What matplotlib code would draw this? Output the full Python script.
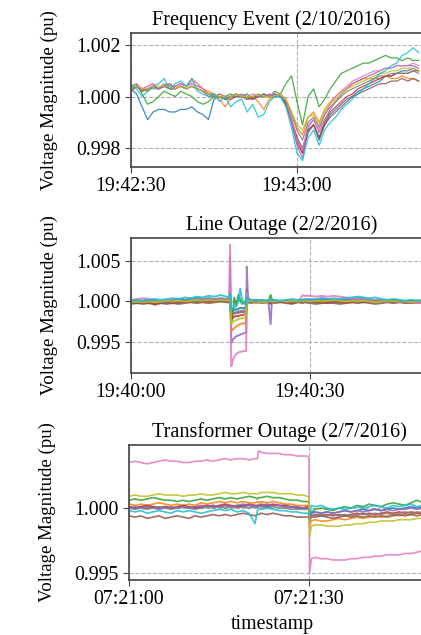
import matplotlib
matplotlib.use('Agg')
import matplotlib.pyplot as plt
import numpy as np

plt.rcParams['font.family'] = ['Liberation Serif', 'DejaVu Serif']
plt.rcParams['font.size'] = 14.3

# deviations from 1.0 pu, in units of 1e-4 pu, one list per measurement unit
# ---- Frequency event (2/10/2016), start 19:42:30, one sample per second
t_freq = np.arange(0, 53)
freq_blue = [3, 1, -4, -9, -6, -5, -5, -6, -6, -5, -5, -4, -6, -7, -9, -1, 0, -1, 0, 1, 0, -1, 0, 0, 1, 0,
             1, 0, -3, -9, -16, -22, -14, -11, -17, -11, -7, -5, -3, -1, 0, 2, 3, 4, 5, 6, 8, 8, 9, 10, 10, 11, 10]
freq_orange = [2, 4, 3, 4, 5, 3, 4, 3, 4, 5, 4, 7, 5, 3, 2, 1, -1, -4, -1, 0, 0, -1, 0, -2, -5, -1,
               0, 1, -1, -6, -12, -15, -8, -6, -10, -5, -2, 0, 2, 3, 5, 6, 7, 7, 7, 7, 8, 7, 7, 8, 7, 7, 6]
freq_green = [4, 5, 1, -3, -2, 0, 2, 1, 0, 2, 1, 0, -2, -3, -2, 0, 1, 0, 1, 0, 0, 1, -1, 0, 1, 0,
              2, 1, 5, 8, -2, -11, 0, 3, -4, -1, 3, 6, 9, 10, 11, 12, 13, 13, 14, 15, 16, 15, 15, 14, 15, 14, 14]
freq_red = [3, 4, 3, 2, 4, 3, 4, 5, 3, 4, 3, 4, 3, 2, 1, 0, 0, -1, 0, 1, 0, 0, -1, 0, 0, 1,
            0, 0, -3, -10, -18, -22, -13, -11, -16, -10, -6, -4, -2, 0, 1, 3, 4, 5, 6, 7, 8, 8, 9, 9, 9, 10, 10]
freq_purple = [2, 4, 2, 3, 4, 3, 5, 4, 4, 5, 4, 5, 4, 3, 1, 1, 0, 0, 0, 0, 1, 0, 0, 1, 0, 0,
               1, 0, -2, -10, -19, -24, -12, -9, -14, -9, -5, -2, 1, 3, 5, 6, 7, 8, 9, 10, 11, 11, 12, 12, 12, 12, 11]
freq_brown = [3, 4, 2, 3, 4, 3, 4, 3, 3, 4, 3, 4, 3, 2, 1, 0, 0, -1, -1, 0, 0, -1, -1, 0, 0, 0,
              0, 0, -3, -9, -16, -20, -13, -11, -16, -11, -8, -6, -4, -2, 0, 1, 2, 3, 4, 5, 5, 6, 6, 7, 6, 7, 6]
freq_pink = [3, 5, 3, 4, 5, 3, 4, 4, 4, 5, 4, 6, 5, 3, 1, 0, 1, 0, 0, 1, 0, 0, 1, 0, 0, 1,
             0, 1, -2, -9, -17, -21, -11, -9, -13, -7, -3, 0, 2, 4, 6, 7, 8, 9, 10, 10, 11, 11, 12, 12, 12, 13, 12]
freq_gray = [2, 4, 2, 3, 3, 3, 4, 3, 3, 4, 3, 4, 3, 2, 0, 0, 0, -1, 0, 0, 0, -1, 0, 0, 0, 0,
             0, 0, -2, -7, -13, -17, -10, -8, -12, -7, -4, -2, 0, 2, 3, 4, 5, 6, 7, 8, 8, 9, 9, 9, 9, 10, 9]
freq_olive = [3, 4, 3, 3, 4, 4, 4, 4, 3, 4, 3, 4, 3, 2, 1, 1, 0, 0, 0, 1, 0, 0, 0, 1, 0, 0,
              0, 1, -1, -6, -11, -13, -8, -7, -11, -6, -3, -1, 1, 3, 4, 5, 6, 7, 8, 9, 9, 10, 10, 11, 11, 11, 10]
freq_cyan = [4, 3, 0, 2, 4, 5, 7, 3, 5, 6, 4, 7, 2, 1, 0, 1, -2, 0, -4, -2, -1, -6, -3, -8, -7, -2,
             0, 0, -4, -12, -22, -25, -16, -13, -19, -13, -10, -8, -5, -3, -1, 1, 3, 5, 7, 9, 10, 12, 13, 16, 17, 19, 17]

# ---- Line outage (2/2/2016), start 19:40:00
t_line = np.concatenate([np.arange(0, 17),
                         [16.5, 16.6, 16.8, 17.0, 17.3, 17.6, 18.0, 18.3, 18.6, 19.0, 19.3, 19.4, 19.6, 20],
                         [21, 22, 23, 23.4, 23.6, 24, 25, 26, 27, 28, 28.8],
                         np.arange(29, 51)])
line_blue = [1, 0, 1, 2, 1, 0, 1, 2, 3, 2, 3, 4, 3, 4, 3, 4, 3,
             3, 8, -14, -12, -10, -10, -9, -8, -8, -8, -7, 6, 2, 1,
             2, 1, 1, 0, 1, 1, 0, 1, 0, 1, 2,
             2, 1, 2, 1, 3, 2, 1, 2, 3, 4, 3, 2, 1, 0, 1, 2, 1, 0, 1, 0, 0, 1]
line_orange = [-1, -2, -1, -2, -1, -2, -1, 0, -1, 0, 1, 0, 1, 0, 1, 0, 1,
               0, -5, -36, -35, -33, -31, -29, -28, -27, -27, -26, 2, 0, 1,
               0, 1, 0, -1, 0, -1, 0, -1, 0, 1, 0,
               1, 0, -1, -2, -1, 0, -1, -2, -1, 0, 1, 0, 1, 0, 1, 2, 1, 0, -1, 0, 1, 0]
line_green = [-1, -2, -1, 0, -1, -2, -1, 0, -1, 0, 1, 2, 1, 2, 1, 2, 3,
              3, 20, -25, -20, 5, -5, 8, 2, -3, 0, -2, 15, 3, 0,
              -1, 0, 0, 8, 3, 1, 0, 0, -1, 0, 1,
              0, 1, 0, -1, 0, 1, 0, 1, 0, -1, 0, 1, 0, 1, 0, 1, 0, -1, 0, 1, 0, 0]
line_red = [-2, -1, -2, -1, -3, -2, -1, -2, -1, -1, 0, 1, 0, 1, 0, 1, 0,
            0, 5, -22, -20, -19, -18, -18, -17, -17, -16, -16, 4, 0, 0,
            -1, 0, -1, -2, 0, -1, 0, -1, -2, 0, -1,
            0, -1, 0, -1, -2, -1, 0, -1, 0, -1, 0, -1, 0, 1, 0, -1, 0, -1, -2, -1, 0, -1]
line_purple = [0, 1, 0, -1, 1, 0, -1, 1, 0, 1, 2, 1, 2, 3, 2, 3, 2,
               2, 56, -51, -48, -45, -43, -42, -41, -40, -39, -39, 43, 5, 2,
               1, 0, 1, -28, 0, 1, 0, 0, 1, 0, 1,
               2, 3, 2, 4, 3, 2, 3, 2, 1, 2, 1, 0, 1, 2, 1, 0, 1, 0, -1, 0, 0, -1]
line_brown = [-3, -2, -3, -2, -4, -2, -3, -2, -3, -2, -1, -2, -1, -2, -1, 0, -1,
              -1, 3, -18, -16, -15, -14, -14, -13, -13, -13, -12, 3, -1, -2,
              -1, -2, -1, -3, -1, -2, -1, -2, -3, -1, -2,
              -1, -2, -3, -2, -1, -2, -3, -2, -1, -2, -1, -2, -3, -2, -1, -2, -1, -2, -1, -2, -1, -2]
line_pink = [2, 3, 4, 3, 2, 1, 1, 2, 1, 0, 1, 2, 3, 2, 3, 2, 3,
             2, 70, -80, -74, -68, -65, -63, -62, -62, -61, -61, 10, 2, 1,
             1, 0, 1, 0, 1, 0, 1, 0, 1, 0, 8,
             7, 7, 6, 7, 6, 7, 6, 5, 4, 3, 2, 1, 2, 1, 0, 1, -1, 0, -1, -2, -1, -1]
line_gray = [0, -1, 0, 1, 0, -1, 0, 1, 0, 1, 0, 1, 2, 1, 2, 1, 2,
             1, 4, -17, -15, -14, -13, -12, -12, -11, -11, -11, 3, 1, 0,
             0, 1, 0, 0, 0, 1, 0, 1, 0, 0, 1,
             1, 0, 1, 2, 1, 0, 1, 0, 1, 0, 1, 0, 1, 0, 0, 1, 0, -1, 0, 1, 0, 0]
line_olive = [-1, 0, -1, 0, -1, 0, 1, 0, 1, 0, 1, 2, 1, 2, 1, 2, 1,
              1, 6, -28, -26, -24, -23, -22, -21, -21, -20, -20, 4, 1, 0,
              0, -1, 0, 1, 0, 0, 1, 0, 0, 1, 0,
              1, 0, 1, 0, 1, 2, 1, 0, 1, 0, 1, 0, -1, 0, 1, 0, 1, 0, -1, 0, 1, 0]
line_cyan = [1, 2, 1, 2, 3, 2, 3, 4, 3, 5, 4, 6, 5, 7, 6, 8, 6,
             5, 10, -10, -9, -8, -6, 0, 16, 2, -3, -4, 7, 3, 2,
             1, 2, 1, 2, 1, 2, 1, 2, 3, 2, 2,
             3, 2, 3, 4, 3, 4, 3, 4, 5, 6, 5, 4, 5, 3, 2, 3, 2, 1, 2, 1, 2, 1]

# ---- Transformer outage (2/7/2016), start 07:21:00
t_xfmr = np.concatenate([np.arange(0, 22), [21.4, 21.6], np.arange(22, 30),
                         [29.7, 30.0, 30.1, 30.4], np.arange(31, 51)])
xfmr_blue = [1, 0, 1, 0, 1, 0, 1, 0, 0, 1, 0, 1, 0, 1, 2, 1, 2, 1, 2, 1, 2, 1,
             1, 2, 2, 1, 2, 2, 1, 1, 0, 0, 0, -1, -8, -4,
             -3, -4, -3, -4, -3, -2, -3, -2, -1, -2, -1, -2, -1, 0, -1, 0, 1, 0, 1, 0]
xfmr_orange = [3, 2, 3, 2, 3, 4, 3, 2, 3, 2, 3, 2, 4, 3, 4, 5, 4, 5, 4, 5, 4, 4,
               5, 4, 5, 4, 5, 4, 3, 3, 2, 2, 2, 1, -14, -10,
               -9, -10, -10, -9, -8, -9, -8, -7, -8, -7, -6, -7, -6, -5, -6, -5, -5, -4, -5, -4]
xfmr_green = [6, 7, 6, 7, 8, 7, 6, 6, 5, 6, 5, 6, 7, 6, 7, 8, 7, 8, 7, 8, 9, 8,
              7, 8, 8, 9, 8, 8, 7, 6, 6, 5, 5, 4, -10, -3,
              -1, 0, -1, -2, 0, 1, 0, 2, 1, 3, 2, 1, 3, 4, 3, 2, 4, 6, 4, 5]
xfmr_red = [1, 0, 1, 2, 1, 0, 1, 0, 1, 2, 1, 0, 1, 2, 1, 2, 3, 2, 1, 2, 3, 2,
            2, 2, 3, 2, 3, 2, 2, 1, 1, 0, 1, 0, -9, -6,
            -5, -6, -5, -6, -5, -6, -5, -4, -5, -4, -5, -4, -3, -4, -3, -4, -3, -4, -3, -3]
xfmr_purple = [0, 1, 0, 1, 0, -1, 0, 1, 0, 1, 0, 1, 2, 1, 2, 1, 2, 1, 2, 3, 2, 2,
               2, 2, 2, 3, 2, 2, 1, 1, 1, 0, 0, 0, -7, -4,
               -3, -4, -3, -4, -3, -2, -3, -2, -3, -2, -1, -2, -1, -2, -1, -1, 0, -1, 0, -1]
xfmr_brown = [-6, -7, -6, -8, -7, -6, -8, -7, -6, -7, -8, -6, -7, -6, -5, -6, -5, -6, -5, -4, -5, -6,
              -5, -5, -4, -5, -4, -5, -6, -6, -7, -7, -7, -7, -9, -7,
              -7, -6, -7, -8, -7, -6, -7, -6, -7, -6, -7, -6, -7, -6, -5, -6, -5, -6, -5, -6]
xfmr_pink = [35, 36, 35, 34, 35, 36, 37, 36, 36, 35, 35, 36, 36, 37, 36, 37, 38, 37, 38, 38, 37, 38,
             38, 44, 43, 42, 42, 42, 41, 41, 40, 40, 40, 38, -50, -39,
             -38, -39, -39, -40, -40, -40, -39, -39, -38, -38, -37, -37, -36, -36, -36, -35, -35, -34, -33, -34]
xfmr_gray = [0, -1, 0, -1, 0, 1, 0, -1, 0, 1, 0, -1, 0, 1, 0, 1, 0, 1, 0, 1, 0, 1,
             0, 1, 1, 0, 1, 0, 0, -1, -1, -1, -1, -1, -8, -6,
             -6, -5, -6, -5, -6, -5, -6, -5, -4, -5, -4, -5, -4, -5, -4, -3, -4, -3, -4, -3]
xfmr_olive = [9, 10, 9, 9, 10, 11, 10, 10, 10, 9, 10, 10, 11, 10, 10, 11, 12, 11, 11, 12, 11, 11,
              11, 11, 12, 12, 12, 11, 11, 11, 10, 10, 9, 8, -22, -14,
              -13, -13, -14, -14, -14, -13, -13, -12, -12, -11, -11, -10, -10, -10, -9, -9, -9, -8, -8, -8]
xfmr_cyan = [-2, -3, -2, -4, -3, -2, -3, -4, -2, -3, -2, -3, -4, -3, -2, -1, -2, -1, -3, -2, -4, -12,
             -2, -1, -1, 0, -1, -2, -2, -3, -3, -4, -4, -5, -6, 2,
             1, 2, 0, -1, 0, -1, 0, 1, 0, 1, 2, 1, 0, 2, 1, 2, 3, 1, 2, 1]

freq_series = [freq_blue, freq_orange, freq_green, freq_red, freq_purple,
               freq_brown, freq_pink, freq_gray, freq_olive, freq_cyan]
line_series = [line_blue, line_orange, line_green, line_red, line_purple,
               line_brown, line_pink, line_gray, line_olive, line_cyan]
xfmr_series = [xfmr_blue, xfmr_orange, xfmr_green, xfmr_red, xfmr_purple,
               xfmr_brown, xfmr_pink, xfmr_gray, xfmr_olive, xfmr_cyan]

titles = ['Frequency Event (2/10/2016)', 'Line Outage (2/2/2016)', 'Transformer Outage (2/7/2016)']
xtick_labels = [['19:42:30', '19:43:00'], ['19:40:00', '19:40:30'], ['07:21:00', '07:21:30']]
yticks = [[0.998, 1.000, 1.002], [0.995, 1.000, 1.005], [0.995, 1.000]]
ylims = [(0.99726, 1.00247), (0.99117, 1.00784), (0.99446, 1.00485)]

fig = plt.figure(figsize=(4.21, 6.35), dpi=100)
W, H = 421.0, 635.0
boxes = [(131, 33, 332, 134), (131, 238, 358, 135), (129, 445, 360, 135)]   # left, top, width, height (px)
title_x = [0.422, 0.422, 0.419]

data = [(t_freq, freq_series, 0.9), (t_line, line_series, 1.4), (t_xfmr, xfmr_series, 1.2)]
for i, (t, series, lw) in enumerate(data):
    l, tp, w, h = boxes[i]
    ax = fig.add_axes([l / W, 1 - (tp + h) / H, w / W, h / H])
    for s in series:
        ax.plot(t, 1 + np.array(s) / 1e4, lw=lw, alpha=0.85)
    ax.set_xlim(0, 60)
    ax.set_ylim(*ylims[i])
    ax.set_xticks([0, 30])
    ax.set_xticklabels(xtick_labels[i])
    ax.set_yticks(yticks[i])
    ax.set_yticklabels(['%.3f' % v for v in yticks[i]])
    ax.grid(True, linestyle='--', color='#b0b0b0', linewidth=0.8)
    ax.set_ylabel('Voltage Magnitude (pu)', fontsize=13.6, labelpad=13)
    ax.set_title(titles[i], x=title_x[i], fontsize=14.6)
    for sp in ax.spines.values():
        sp.set_color('#444444')
        sp.set_linewidth(1.2)
    ax.tick_params(direction='out', length=4, color='#444444')
    if i == 2:
        ax.set_xlabel('timestamp', x=0.397)

fig.savefig('out.png', dpi=100)
